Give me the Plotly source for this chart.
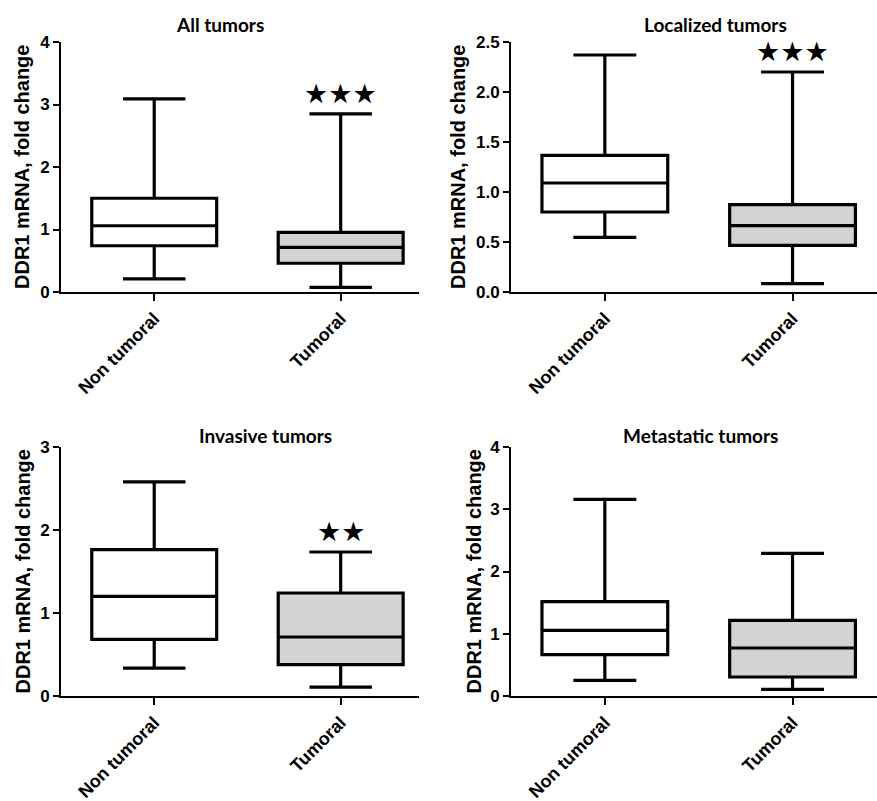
import plotly.graph_objects as go

OFF = 0
W, H = 877, 801

categories = ["Non tumoral", "Tumoral"]
titles = ["All tumors", "Localized tumors", "Invasive tumors", "Metastatic tumors"]
stars = ["★★★", "★★★", "★★", ""]

# per panel: [Non tumoral, Tumoral]
lower_whisker = [[0.21, 0.075], [0.546, 0.083], [0.337, 0.108], [0.252, 0.107]]
q1_vals = [[0.74, 0.46], [0.80, 0.466], [0.683, 0.378], [0.665, 0.305]]
median_vals = [[1.06, 0.715], [1.09, 0.663], [1.20, 0.711], [1.055, 0.771]]
q3_vals = [[1.50, 0.955], [1.366, 0.873], [1.764, 1.241], [1.516, 1.216]]
upper_whisker = [[3.09, 2.85], [2.37, 2.20], [2.58, 1.735], [3.16, 2.29]]

y_ranges = [[0, 4], [0, 2.5], [0, 3], [0, 4]]
y_ticks = [[0, 1, 2, 3, 4], [0, 0.5, 1.0, 1.5, 2.0, 2.5], [0, 1, 2, 3], [0, 1, 2, 3, 4]]
y_ticktext = [["0", "1", "2", "3", "4"], ["0.0", "0.5", "1.0", "1.5", "2.0", "2.5"],
              ["0", "1", "2", "3"], ["0", "1", "2", "3", "4"]]
fills = ["white", "#d3d3d3"]

# page-pixel layout of plot areas (left, right, top, bottom)
areas = [(61, 419, 42, 292), (511, 877, 42, 292), (61, 419, 447, 696), (511, 877, 447, 696)]
x_ranges = [[-0.5, 1.42], [-0.5, 1.45], [-0.5, 1.42], [-0.5, 1.45]]
ytitle_x = [22, 458, 22, 473]
title_pos = [(220, 25), (715, 25), (265, 435), (700, 435)]

FONT = "Liberation Sans"
TFONT = "Lato"


def px(x):
    return (x - OFF) / W


def py(y):
    return 1 - (y - OFF) / H


fig = go.Figure()
annotations = []
for p in range(4):
    ax = "" if p == 0 else str(p + 1)
    for c in range(2):
        fig.add_trace(go.Box(
            x=[categories[c]],
            q1=[q1_vals[p][c]], median=[median_vals[p][c]], q3=[q3_vals[p][c]],
            lowerfence=[lower_whisker[p][c]], upperfence=[upper_whisker[p][c]],
            fillcolor=fills[c], line=dict(color="black", width=3.2),
            width=0.67, whiskerwidth=0.5, boxpoints=False, showlegend=False,
            xaxis="x" + ax, yaxis="y" + ax, hoverinfo="skip",
        ))
    l, r, t, b = areas[p]
    xd = [px(l), min(px(r), 1.0)]
    yd = [py(b), py(t)]
    fig.layout["xaxis" + ax] = dict(
        domain=xd, range=x_ranges[p], type="category", categoryorder="array",
        categoryarray=categories, anchor="y" + ax, automargin=False,
        showline=True, linecolor="black", linewidth=2, ticks="outside",
        ticklen=7, tickwidth=2, tickcolor="black", showgrid=False, zeroline=False,
        tickangle=-45, tickfont=dict(family=FONT, size=18, color="black", weight="bold"),
    )
    fig.layout["yaxis" + ax] = dict(
        domain=yd, range=y_ranges[p], anchor="x" + ax, automargin=False,
        tickmode="array", tickvals=y_ticks[p], ticktext=y_ticktext[p],
        showline=True, linecolor="black", linewidth=2, ticks="outside",
        ticklen=6, tickwidth=2, tickcolor="black", showgrid=False, zeroline=False,
        tickfont=dict(family=FONT, size=17, color="black", weight="bold"),
    )
    annotations.append(dict(
        text="DDR1 mRNA, fold change", xref="paper", yref="paper",
        x=px(ytitle_x[p]), y=py((t + b) / 2), textangle=-90,
        xanchor="center", yanchor="middle", showarrow=False,
        font=dict(family=FONT, size=20, color="black", weight="bold"),
    ))
    annotations.append(dict(
        text=titles[p], xref="paper", yref="paper",
        x=px(title_pos[p][0]), y=py(title_pos[p][1]),
        xanchor="center", yanchor="middle", showarrow=False,
        font=dict(family=TFONT, size=19, color="black", weight="bold"),
    ))
    if stars[p]:
        annotations.append(dict(
            text=stars[p], xref="x" + ax, yref="y" + ax,
            x=categories[1], y=upper_whisker[p][1], yshift=3,
            xanchor="center", yanchor="bottom", showarrow=False,
            font=dict(family="DejaVu Sans", size=27, color="black"),
        ))

fig.update_layout(
    width=W, height=H, margin=dict(l=0, r=0, t=0, b=0),
    paper_bgcolor="white", plot_bgcolor="white",
    annotations=annotations, hovermode=False,
)
fig.write_html("out.html", config={"displayModeBar": False, "staticPlot": True},
               post_script="document.body.style.margin='0';")
